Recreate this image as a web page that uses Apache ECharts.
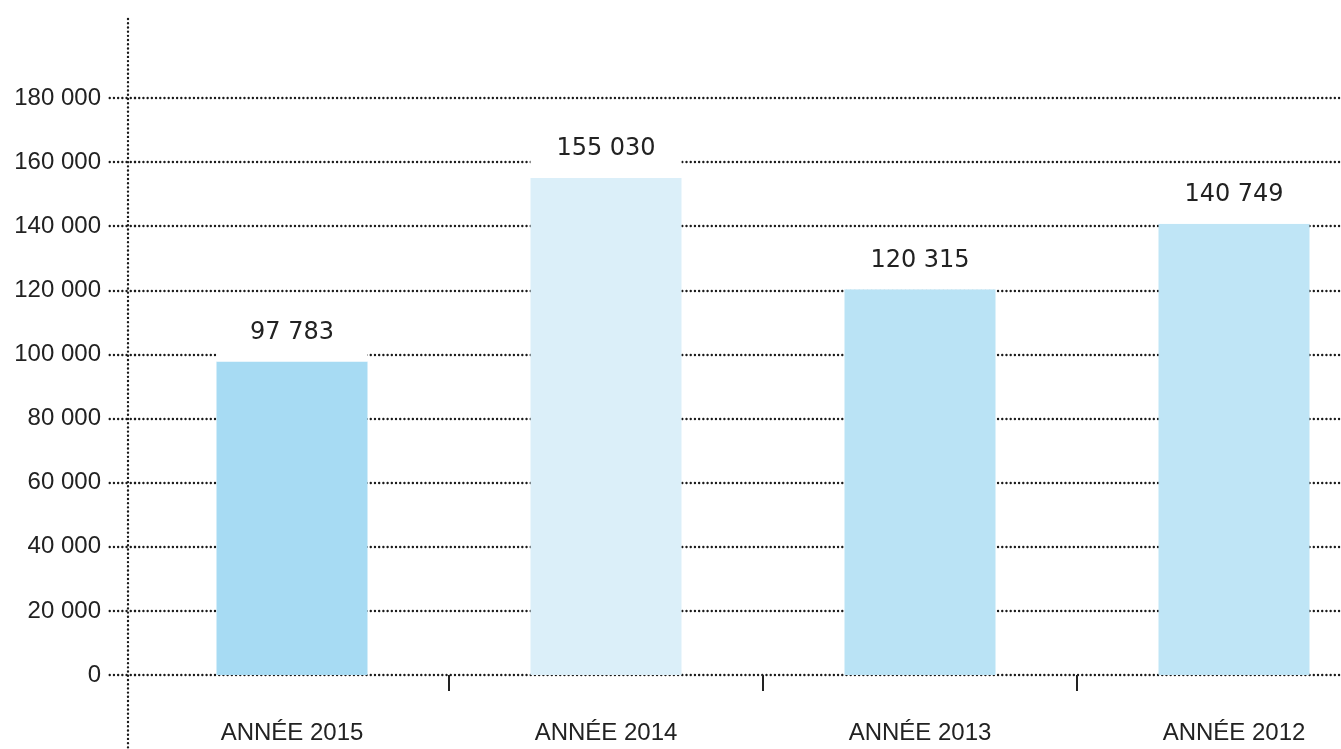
<!DOCTYPE html>
<html>
<head>
<meta charset="utf-8">
<script src="https://cdn.jsdelivr.net/npm/echarts@6/dist/echarts.min.js"></script>
<style>
html,body{margin:0;padding:0;background:#fff;}
#c{width:1341px;height:749px;}
</style>
</head>
<body>
<div id="c"></div>
<script>
const categories = ['ANNÉE 2015', 'ANNÉE 2014', 'ANNÉE 2013', 'ANNÉE 2012'];
const values = [97783, 155030, 120315, 140749];
const barColors = ['#a7dbf3', '#dbeff9', '#bae3f5', '#bfe5f6'];
const yMax = 180000;
const yInterval = 20000;

const chart = echarts.init(document.getElementById('c'), null, {renderer: 'canvas'});
const fmt = v => String(v).replace(/\B(?=(\d{3})+(?!\d))/g, ' ');
const gridLeft = 135;
const dotted = {color: '#1a1a1a', width: 2.4, type: [0.01, 4.2], cap: 'round'};

chart.setOption({
  animation: false,
  backgroundColor: '#fff',
  grid: {left: gridLeft, top: 98, bottom: 74, width: 1256, containLabel: false, outerBoundsMode: 'none'},
  xAxis: {
    type: 'category',
    data: categories,
    boundaryGap: true,
    axisLine: {show: false},
    axisTick: {show: true, length: 16, interval: (i) => i > 0, lineStyle: {color: '#222', width: 2}},
    axisLabel: {margin: 46, color: '#222', fontSize: 24, fontFamily: 'Liberation Sans'},
    splitLine: {show: false}
  },
  yAxis: {
    type: 'value',
    min: 0,
    max: yMax,
    interval: yInterval,
    axisLine: {show: false},
    axisTick: {show: true, length: 27, lineStyle: dotted},
    axisLabel: {margin: 34, color: '#222', fontSize: 24, fontFamily: 'Liberation Sans', formatter: fmt},
    splitLine: {show: true, lineStyle: dotted}
  },
  series: [{
    type: 'bar',
    barWidth: 151,
    data: values.map((v, i) => ({value: v, itemStyle: {color: barColors[i]}})),
    label: {
      show: true,
      position: 'top',
      distance: 0,
      formatter: p => fmt(p.value),
      color: '#222',
      fontSize: 24,
      fontFamily: 'DejaVu Sans',
      backgroundColor: '#fff',
      width: 151,
      align: 'center',
      lineHeight: 24,
      padding: [12, 0, 17, 0]
    }
  }],
  graphic: [{
    type: 'line',
    shape: {x1: gridLeft - 7, y1: 19, x2: gridLeft - 7, y2: 749},
    style: {stroke: '#1a1a1a', lineWidth: 2.4, lineDash: [0.01, 4.2], lineCap: 'round'},
    silent: true
  }]
});
</script>
</body>
</html>
